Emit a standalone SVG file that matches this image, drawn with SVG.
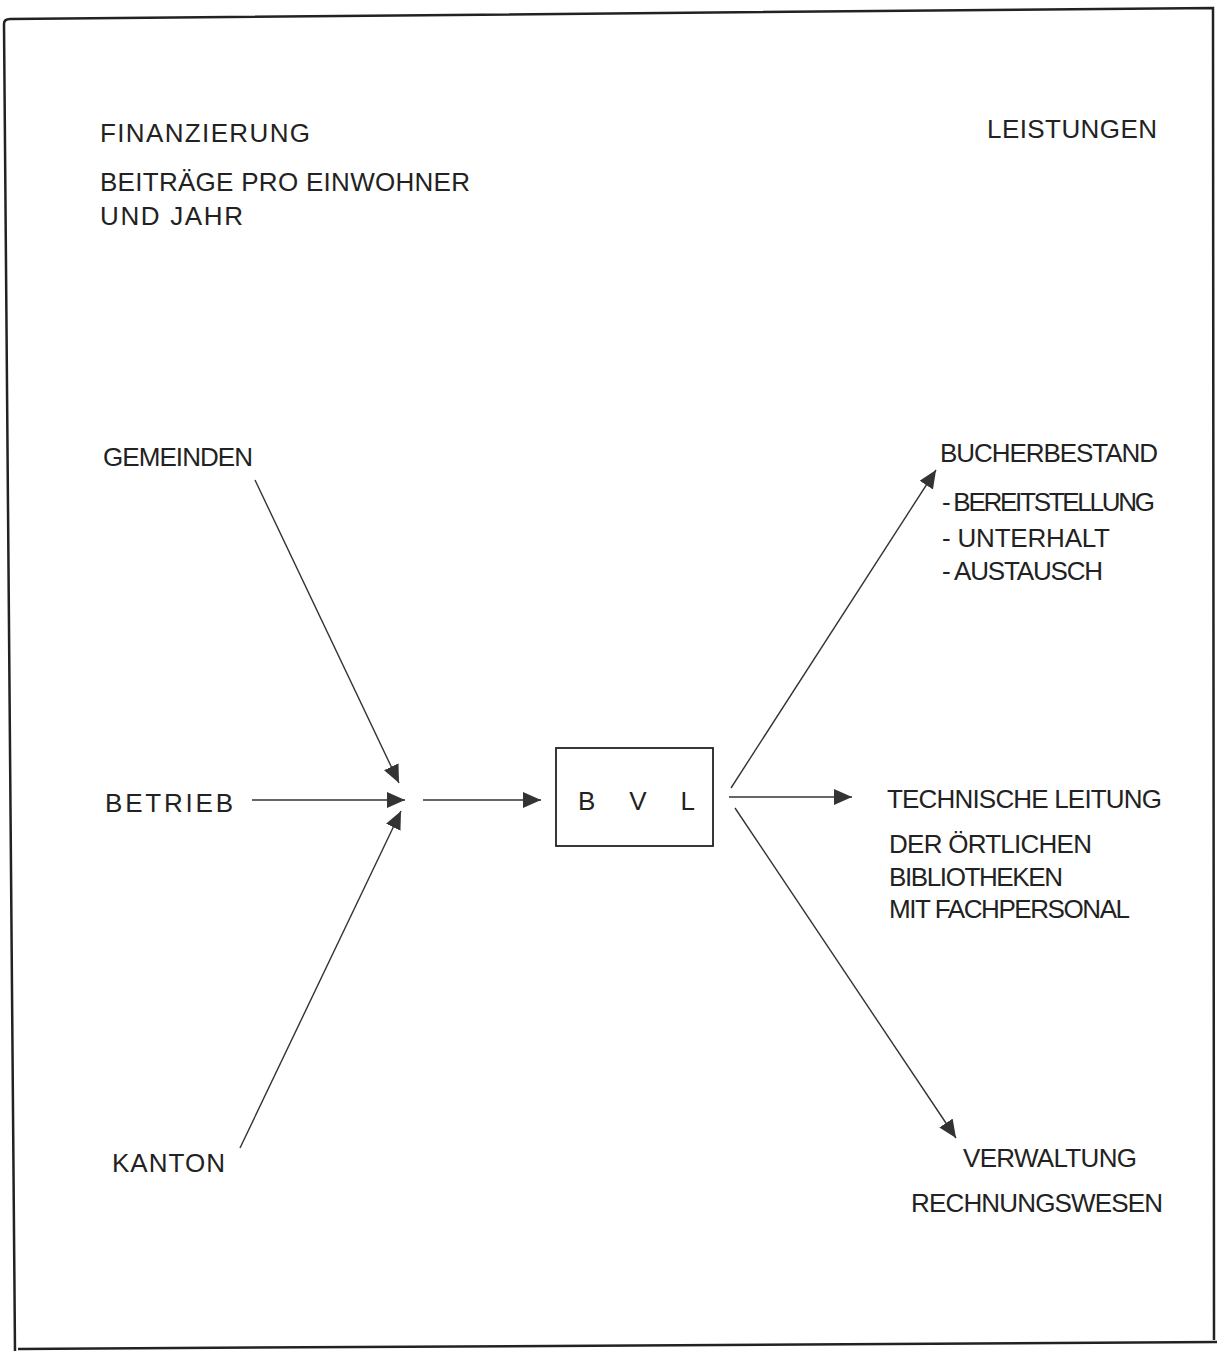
<svg xmlns="http://www.w3.org/2000/svg" width="1217" height="1351" viewBox="0 0 1217 1351">
<style>
text{font-family:"Liberation Sans","DejaVu Sans",sans-serif;font-size:26px;fill:#222;}
.c line{stroke:#333;stroke-width:1.4;}
</style>
<defs>
<marker id="ah" markerWidth="19" markerHeight="16" refX="18" refY="8" orient="auto" markerUnits="userSpaceOnUse">
<path d="M0,0 L18,8 L0,16 Z" fill="#333"/>
</marker>
</defs>
<rect x="0" y="0" width="1217" height="1351" fill="#fff"/>
<g id="frame" fill="none" stroke="#222" stroke-width="2.5">
<path d="M15,1351 L4,24 Q4,19 10,19 L1213,8 L1214,1340"/>
<path d="M18,1349 L1217,1342"/>
</g>
<g id="headers">
<text x="100" y="142" textLength="210" lengthAdjust="spacing">FINANZIERUNG</text>
<text x="100" y="191" textLength="370" lengthAdjust="spacing">BEITRÄGE  PRO  EINWOHNER</text>
<text x="100" y="225" textLength="143" lengthAdjust="spacing">UND  JAHR</text>
<text x="987" y="138" textLength="170" lengthAdjust="spacing">LEISTUNGEN</text>
</g>
<g id="gemeinden"><text x="103" y="466" textLength="150" lengthAdjust="spacing">GEMEINDEN</text></g>
<g id="betrieb"><text x="105" y="812" textLength="128" lengthAdjust="spacing">BETRIEB</text></g>
<g id="kanton"><text x="112" y="1172" textLength="113" lengthAdjust="spacing">KANTON</text></g>
<g id="bvl">
<rect x="556" y="748" width="157" height="98" fill="none" stroke="#222" stroke-width="1.8"/>
<text x="578" y="810" textLength="117" lengthAdjust="spacing">B   V   L</text>
</g>
<g id="buecherbestand">
<text x="940" y="462" textLength="218" lengthAdjust="spacing">BUCHERBESTAND</text>
<text x="942" y="511" textLength="213" lengthAdjust="spacing">- BEREITSTELLUNG</text>
<text x="942" y="547" textLength="168" lengthAdjust="spacing">- UNTERHALT</text>
<text x="942" y="580" textLength="161" lengthAdjust="spacing">- AUSTAUSCH</text>
</g>
<g id="technische">
<text x="887" y="808" textLength="275" lengthAdjust="spacing">TECHNISCHE  LEITUNG</text>
<text x="889" y="853" textLength="203" lengthAdjust="spacing">DER  ÖRTLICHEN</text>
<text x="889" y="886" textLength="174" lengthAdjust="spacing">BIBLIOTHEKEN</text>
<text x="889" y="918" textLength="241" lengthAdjust="spacing">MIT  FACHPERSONAL</text>
</g>
<g id="verwaltung">
<text x="963" y="1167" textLength="174" lengthAdjust="spacing">VERWALTUNG</text>
<text x="911" y="1212" textLength="252" lengthAdjust="spacing">RECHNUNGSWESEN</text>
</g>
<g id="connectors" class="c">
<line x1="255" y1="480" x2="399" y2="783" marker-end="url(#ah)"/>
<line x1="252" y1="800" x2="405" y2="800" marker-end="url(#ah)"/>
<line x1="240" y1="1148" x2="401" y2="811" marker-end="url(#ah)"/>
<line x1="423" y1="800" x2="541" y2="800" marker-end="url(#ah)"/>
<line x1="729" y1="797" x2="852" y2="797" marker-end="url(#ah)"/>
<line x1="731" y1="788" x2="936" y2="470" marker-end="url(#ah)"/>
<line x1="735" y1="808" x2="956" y2="1138" marker-end="url(#ah)"/>
</g>
</svg>
